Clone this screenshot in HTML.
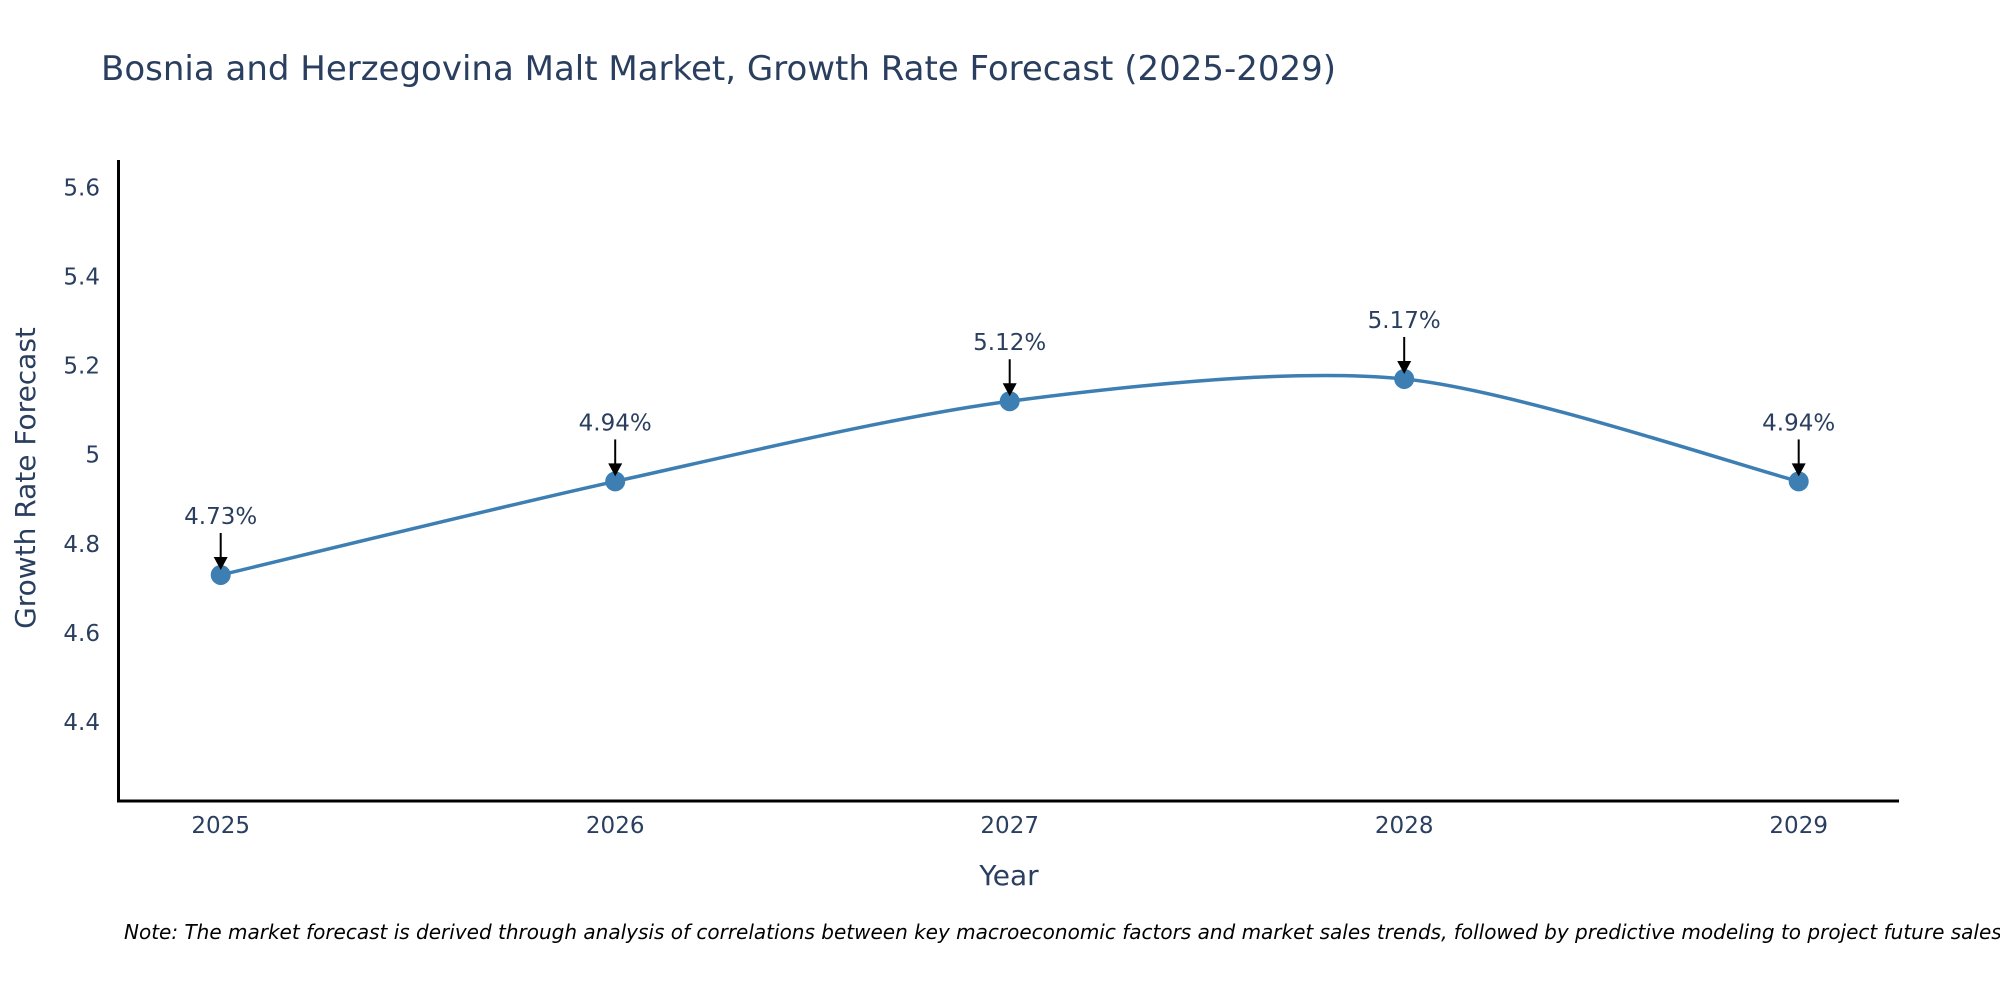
<!DOCTYPE html>
<html><head><meta charset="utf-8"><style>
html,body{margin:0;padding:0;background:#fff;overflow:hidden;}
svg{display:block;font-family:"DejaVu Sans","Liberation Sans",sans-serif;}
</style></head><body>
<svg id="chart" width="2000" height="1000" viewBox="0 0 2000 1000">
<text x="101" y="80" font-size="34" fill="#2a3f5f">Bosnia and Herzegovina Malt Market, Growth Rate Forecast (2025-2029)</text>
<g id="yticks"></g>
<g id="xticks"></g>
<line x1="118.5" y1="160" x2="118.5" y2="802" stroke="#000" stroke-width="3"/>
<line x1="117" y1="801" x2="1899" y2="801" stroke="#000" stroke-width="3"/>
<text transform="translate(35,478) rotate(-90)" text-anchor="middle" font-size="28" fill="#2a3f5f">Growth Rate Forecast</text>
<text x="1009" y="885" text-anchor="middle" font-size="28" fill="#2a3f5f">Year</text>
<g id="series"></g>
<text x="124" y="939" font-size="20" font-style="italic" fill="#000">Note: The market forecast is derived through analysis of correlations between key macroeconomic factors and market sales trends, followed by predictive modeling to project future sales</text>
</svg>
<script>
const years = [2025, 2026, 2027, 2028, 2029];
const values = [4.73, 4.94, 5.12, 5.17, 4.94];
const labels = ["4.73%", "4.94%", "5.12%", "5.17%", "4.94%"];
const yTicks = [4.4, 4.6, 4.8, 5, 5.2, 5.4, 5.6];
const yTickLabels = ["4.4", "4.6", "4.8", "5", "5.2", "5.4", "5.6"];

const NS = "http://www.w3.org/2000/svg";
const X0 = 220.7, XSTEP = 394.5;
function xs(yr){ return X0 + (yr - years[0]) * XSTEP; }
const Y_LO = 4.4, Y_LO_PX = 722, PX_PER = 89.1 / 0.2;
function ys(v){ return Y_LO_PX - (v - Y_LO) * PX_PER; }
function mk(tag, attrs, parent){ const e = document.createElementNS(NS, tag); for (const k in attrs) e.setAttribute(k, attrs[k]); parent.appendChild(e); return e; }

const yg = document.getElementById('yticks');
yTicks.forEach((t, i) => {
  const e = mk('text', {x: 100, y: ys(t) + 8, 'text-anchor': 'end', 'font-size': 23, fill: '#2a3f5f'}, yg);
  
  
  e.textContent = yTickLabels[i];
});
const xg = document.getElementById('xticks');
years.forEach(yr => {
  const e = mk('text', {x: xs(yr), y: 833, 'text-anchor': 'middle', 'font-size': 23, fill: '#2a3f5f'}, xg);
  
  
  e.textContent = String(yr);
});

const sg = document.getElementById('series');
const pts = years.map((yr, i) => [xs(yr), ys(values[i])]);
let d = 'M' + pts[0][0] + ',' + pts[0][1];
for (let i = 0; i < pts.length - 1; i++) {
  const p0 = pts[Math.max(0, i - 1)], p1 = pts[i], p2 = pts[i + 1], p3 = pts[Math.min(pts.length - 1, i + 2)];
  const c1 = [p1[0] + (p2[0] - p0[0]) / 7, p1[1] + (p2[1] - p0[1]) / 7];
  const c2 = [p2[0] - (p3[0] - p1[0]) / 7, p2[1] - (p3[1] - p1[1]) / 7];
  d += ' C' + c1 + ' ' + c2 + ' ' + p2;
}
const line = mk('path', {d: d, fill: 'none', stroke: '#3d7fb3', 'stroke-width': 3.5}, sg);



pts.forEach((p, i) => {
  const c = mk('circle', {cx: p[0], cy: p[1], r: 10, fill: '#3d7fb3'}, sg);
  
  
  const a = mk('line', {x1: p[0], y1: p[1] - 42, x2: p[0], y2: p[1] - 16, stroke: '#000', 'stroke-width': 2}, sg);
  
  
  const h = mk('polygon', {points: (p[0]-7)+','+(p[1]-18)+' '+(p[0]+7)+','+(p[1]-18)+' '+p[0]+','+(p[1]-5), fill: '#000'}, sg);
  
  
  const t = mk('text', {x: p[0], y: p[1] - 51, 'text-anchor': 'middle', 'font-size': 23, fill: '#2a3f5f'}, sg);
  
  
  t.textContent = labels[i];
});
</script>
</body></html>
